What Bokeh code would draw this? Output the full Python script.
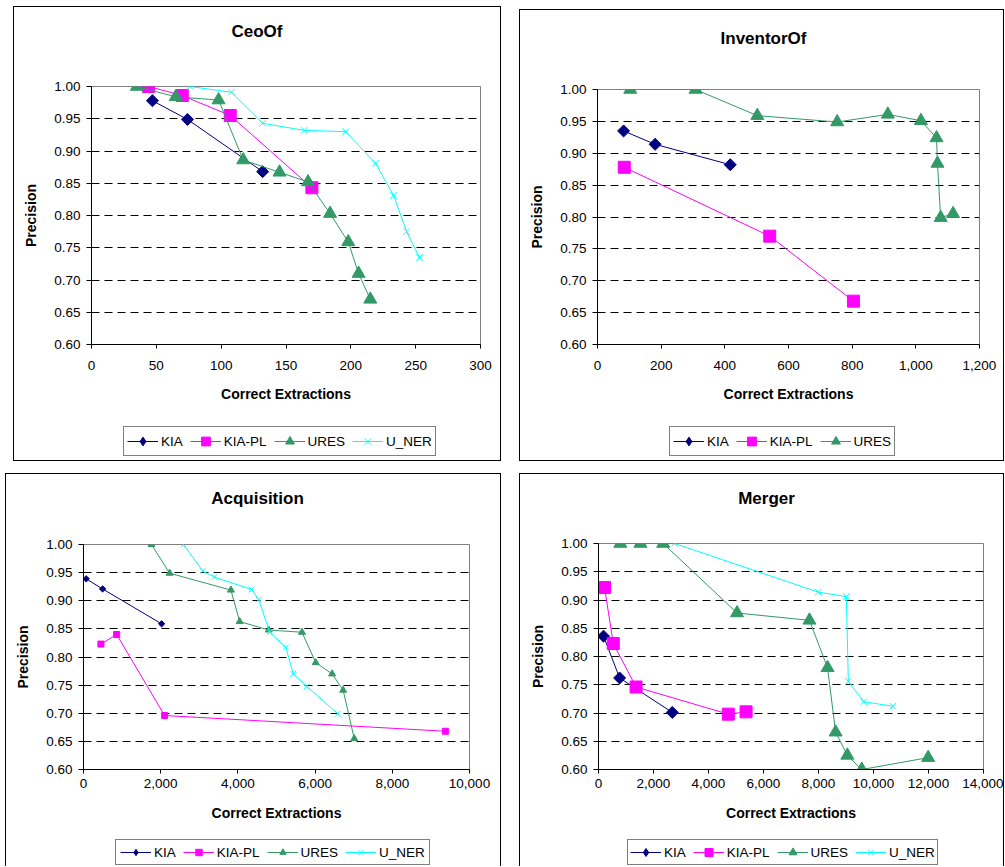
import math
from bokeh.plotting import figure
from bokeh.models import (Range1d, FixedTicker, NumeralTickFormatter, Legend,
                          LegendItem, Spacer, Label)
from bokeh.layouts import column, row
from bokeh.embed import file_html
from bokeh.resources import INLINE

# ---------------- data ----------------
# CeoOf
ceo_kia_x = [47, 74, 132]
ceo_kia_y = [0.978, 0.949, 0.868]
ceo_kiapl_x = [44, 70, 107, 170]
ceo_kiapl_y = [1.000, 0.986, 0.955, 0.843]
ceo_ures_x = [35, 65, 98, 117, 145, 167, 184, 198, 206, 215]
ceo_ures_y = [1.000, 0.984, 0.979, 0.886, 0.867, 0.852, 0.803, 0.759, 0.710, 0.670]
ceo_uner_x = [76, 108, 132, 164, 196, 219, 233, 243, 253]
ceo_uner_y = [1.000, 0.991, 0.943, 0.932, 0.930, 0.881, 0.831, 0.775, 0.735]

# InventorOf
inv_kia_x = [82, 181, 417]
inv_kia_y = [0.935, 0.914, 0.882]
inv_kiapl_x = [84, 541, 804]
inv_kiapl_y = [0.878, 0.770, 0.668]
inv_ures_x = [103, 308, 502, 753, 912, 1016, 1065, 1068, 1078, 1117]
inv_ures_y = [1.000, 1.000, 0.959, 0.949, 0.961, 0.951, 0.924, 0.884, 0.799, 0.805]

# Acquisition
acq_kia_x = [69, 495, 2023]
acq_kia_y = [0.939, 0.921, 0.859]
acq_kiapl_x = [451, 859, 2101, 9375]
acq_kiapl_y = [0.823, 0.840, 0.696, 0.668]
acq_ures_x = [1762, 2231, 3819, 4045, 4800, 5660, 6016, 6441, 6727, 7014]
acq_ures_y = [1.000, 0.949, 0.919, 0.863, 0.848, 0.844, 0.790, 0.770, 0.741, 0.655]
acq_uner_x = [2587, 3090, 3394, 4358, 4540, 4826, 5243, 5434, 5781, 6589]
acq_uner_y = [1.000, 0.953, 0.942, 0.920, 0.902, 0.844, 0.817, 0.770, 0.748, 0.699]

# Merger
mer_kia_x = [183, 768, 2683]
mer_kia_y = [0.836, 0.762, 0.701]
mer_kiapl_x = [220, 537, 1366, 4720, 5366]
mer_kiapl_y = [0.922, 0.823, 0.746, 0.698, 0.702]
mer_ures_x = [793, 1524, 2354, 5037, 7671, 8329, 8622, 9049, 9573, 11988]
mer_ures_y = [1.000, 1.000, 1.000, 0.877, 0.864, 0.780, 0.666, 0.625, 0.600, 0.621]
mer_uner_x = [2768, 7988, 9012, 9085, 9646, 10707]
mer_uner_y = [1.000, 0.914, 0.906, 0.756, 0.720, 0.712]

y_ticks = [0.60, 0.65, 0.70, 0.75, 0.80, 0.85, 0.90, 0.95, 1.00]
ceo_x_ticks = [0, 50, 100, 150, 200, 250, 300]
inv_x_ticks = [0, 200, 400, 600, 800, 1000, 1200]
acq_x_ticks = [0, 2000, 4000, 6000, 8000, 10000]
mer_x_ticks = [0, 2000, 4000, 6000, 8000, 10000, 12000, 14000]

# ---------------- style ----------------
FONT = "Liberation Sans"
COLORS = {"KIA": "#000080", "KIA-PL": "#FF00FF", "URES": "#339966", "U_NER": "#00FFFF"}
MARKERS = {"KIA": "square", "KIA-PL": "square", "URES": "triangle", "U_NER": "x"}
LEGEND_MARKERS = {"KIA": "diamond", "KIA-PL": "square", "URES": "triangle", "U_NER": "x"}
B = "1px solid black"
NAN = float("nan")


def marker_kw(name, size):
    c = COLORS[name]
    kw = dict(marker=MARKERS[name], size=size, line_color=c, fill_color=c)
    if name == "KIA":
        kw["angle"] = math.pi / 4
    return kw


def blank_fig(w, h, styles):
    f = figure(width=w, height=h, output_backend="svg", toolbar_location=None,
               x_axis_type=None, y_axis_type=None,
               x_range=Range1d(0, 1), y_range=Range1d(0, 1),
               min_border_left=0, min_border_right=0, min_border_top=0, min_border_bottom=0)
    f.outline_line_color = None
    f.grid.visible = False
    f.background_fill_color = "white"
    f.border_fill_color = "white"
    f.styles = styles
    return f


def header(title, w, h, pos):
    f = blank_fig(w, h, {"border-top": B, "border-left": B, "border-right": B})
    f.add_layout(Label(x=pos[0], y=pos[1], x_units="screen", y_units="screen",
                       text=title, text_align="center", text_baseline="middle",
                       text_font=FONT, text_font_size="17px", text_font_style="bold",
                       text_color="black"))
    return f


def legend_fig(names, msizes, w, h, loc, gh, pad, closed):
    st = {"border-left": B, "border-right": B}
    if closed:
        st["border-bottom"] = B
    f = blank_fig(w, h, st)
    items = []
    for name in names:
        c = COLORS[name]
        # legend samples only (no visible data)
        ln = f.line(x=[NAN], y=[NAN], line_color=c, line_width=1)
        sc = f.scatter(x=[NAN], y=[NAN], marker=LEGEND_MARKERS[name], size=msizes[name],
                       line_color=c, fill_color=c)
        items.append(LegendItem(label=name, renderers=[ln, sc]))
    leg = Legend(items=items, location=loc, orientation="horizontal",
                 border_line_color="black", border_line_width=1,
                 background_fill_color="white", background_fill_alpha=1,
                 label_text_font=FONT, label_text_font_size="13.5px",
                 label_text_color="black",
                 glyph_width=31, glyph_height=gh, label_height=gh,
                 label_standoff=3, spacing=7, padding=pad, margin=0)
    f.add_layout(leg)
    return f


def main_fig(w, h, borders, x_ticks, series, msizes, xlab_standoff, xaxlab_standoff):
    ml, mr, mt, mb = borders
    p = figure(width=w, height=h, output_backend="svg", toolbar_location=None,
               x_range=Range1d(x_ticks[0], x_ticks[-1]), y_range=Range1d(0.6, 1.0),
               min_border_left=ml, min_border_right=mr,
               min_border_top=mt, min_border_bottom=mb)
    p.styles = {"border-left": B, "border-right": B}
    p.background_fill_color = "white"
    p.border_fill_color = "white"
    p.outline_line_color = "#808080"
    p.outline_line_width = 1

    p.xgrid.visible = False
    p.ygrid.ticker = FixedTicker(ticks=y_ticks)
    p.ygrid.grid_line_color = "black"
    p.ygrid.grid_line_dash = "8 5"
    p.ygrid.grid_line_width = 1

    xa = p.xaxis[0]
    xa.ticker = FixedTicker(ticks=x_ticks)
    xa.formatter = NumeralTickFormatter(format="0,0")
    xa.axis_label = "Correct Extractions"
    ya = p.yaxis[0]
    ya.ticker = FixedTicker(ticks=y_ticks)
    ya.formatter = NumeralTickFormatter(format="0.00")
    ya.axis_label = "Precision"
    for ax in (xa, ya):
        ax.axis_line_color = "black"
        ax.major_tick_line_color = "black"
        ax.minor_tick_line_color = None
        ax.major_tick_in = 0
        ax.major_label_text_font = FONT
        ax.major_label_text_font_size = "13.5px"
        ax.major_label_text_color = "black"
        ax.axis_label_text_font = FONT
        ax.axis_label_text_font_size = "14px"
        ax.axis_label_text_font_style = "bold"
        ax.axis_label_text_color = "black"
    xa.major_tick_out = 4
    xa.major_label_standoff = xlab_standoff
    xa.axis_label_standoff = xaxlab_standoff
    ya.major_tick_out = 5
    ya.major_label_standoff = 6
    ya.axis_label_standoff = 12

    for name, xs, ys in series:
        p.line(xs, ys, line_color=COLORS[name], line_width=1)
        p.scatter(xs, ys, **marker_kw(name, msizes[name]))
    return p


big = {"KIA": 8.5, "KIA-PL": 12, "URES": 13, "U_NER": 9}
small = {"KIA": 4.5, "KIA-PL": 6, "URES": 7, "U_NER": 8}
four = ["KIA", "KIA-PL", "URES", "U_NER"]
three = ["KIA", "KIA-PL", "URES"]

# header / legend frames are aligned with the main plot frame by the column layout,
# so their screen offsets are measured from the main frame's left edge.

# ---- CeoOf (top left) ----
tl = column(
    header("CeoOf", 488, 68, (165.5, 44)),
    main_fig(488, 336, (77, 22, 12, 66), ceo_x_ticks,
             [("KIA", ceo_kia_x, ceo_kia_y), ("KIA-PL", ceo_kiapl_x, ceo_kiapl_y),
              ("URES", ceo_ures_x, ceo_ures_y), ("U_NER", ceo_uner_x, ceo_uner_y)],
             big, 12, 13),
    legend_fig(four, big, 488, 51, (32, 5), 22, 3, True),
)

# ---- InventorOf (top right) ----
tr = column(
    Spacer(width=485, height=3),
    header("InventorOf", 485, 68, (166, 40)),
    main_fig(485, 333, (77, 26, 12, 66), inv_x_ticks,
             [("KIA", inv_kia_x, inv_kia_y), ("KIA-PL", inv_kiapl_x, inv_kiapl_y),
              ("URES", inv_ures_x, inv_ures_y)],
             big, 12, 13),
    legend_fig(three, big, 485, 51, (72, 5), 22, 3, True),
)

# ---- Acquisition (bottom left) ----
bl = column(
    header("Acquisition", 496, 59, (174, 35)),
    main_fig(496, 296, (77, 33, 12, 59), acq_x_ticks,
             [("KIA", acq_kia_x, acq_kia_y), ("KIA-PL", acq_kiapl_x, acq_kiapl_y),
              ("URES", acq_ures_x, acq_ures_y), ("U_NER", acq_uner_x, acq_uner_y)],
             small, 5, 14),
    legend_fig(four, small, 496, 38, (32, 1), 16, 4, False),
)

# ---- Merger (bottom right) ----
br = column(
    header("Merger", 485, 58, (168, 34)),
    main_fig(485, 297, (78, 22, 12, 59), mer_x_ticks,
             [("KIA", mer_kia_x, mer_kia_y), ("KIA-PL", mer_kiapl_x, mer_kiapl_y),
              ("URES", mer_ures_x, mer_ures_y), ("U_NER", mer_uner_x, mer_uner_y)],
             big, 5, 14),
    legend_fig(four, big, 485, 38, (29, 1), 20, 2, False),
)

row1 = row(Spacer(width=13, height=455), tl, Spacer(width=18, height=455), tr)
row2 = row(Spacer(width=5, height=393), bl, Spacer(width=18, height=393), br)
layout = column(Spacer(width=1000, height=6), row1, Spacer(width=1000, height=12), row2)

open("out.html", "w").write(file_html(layout, INLINE))
